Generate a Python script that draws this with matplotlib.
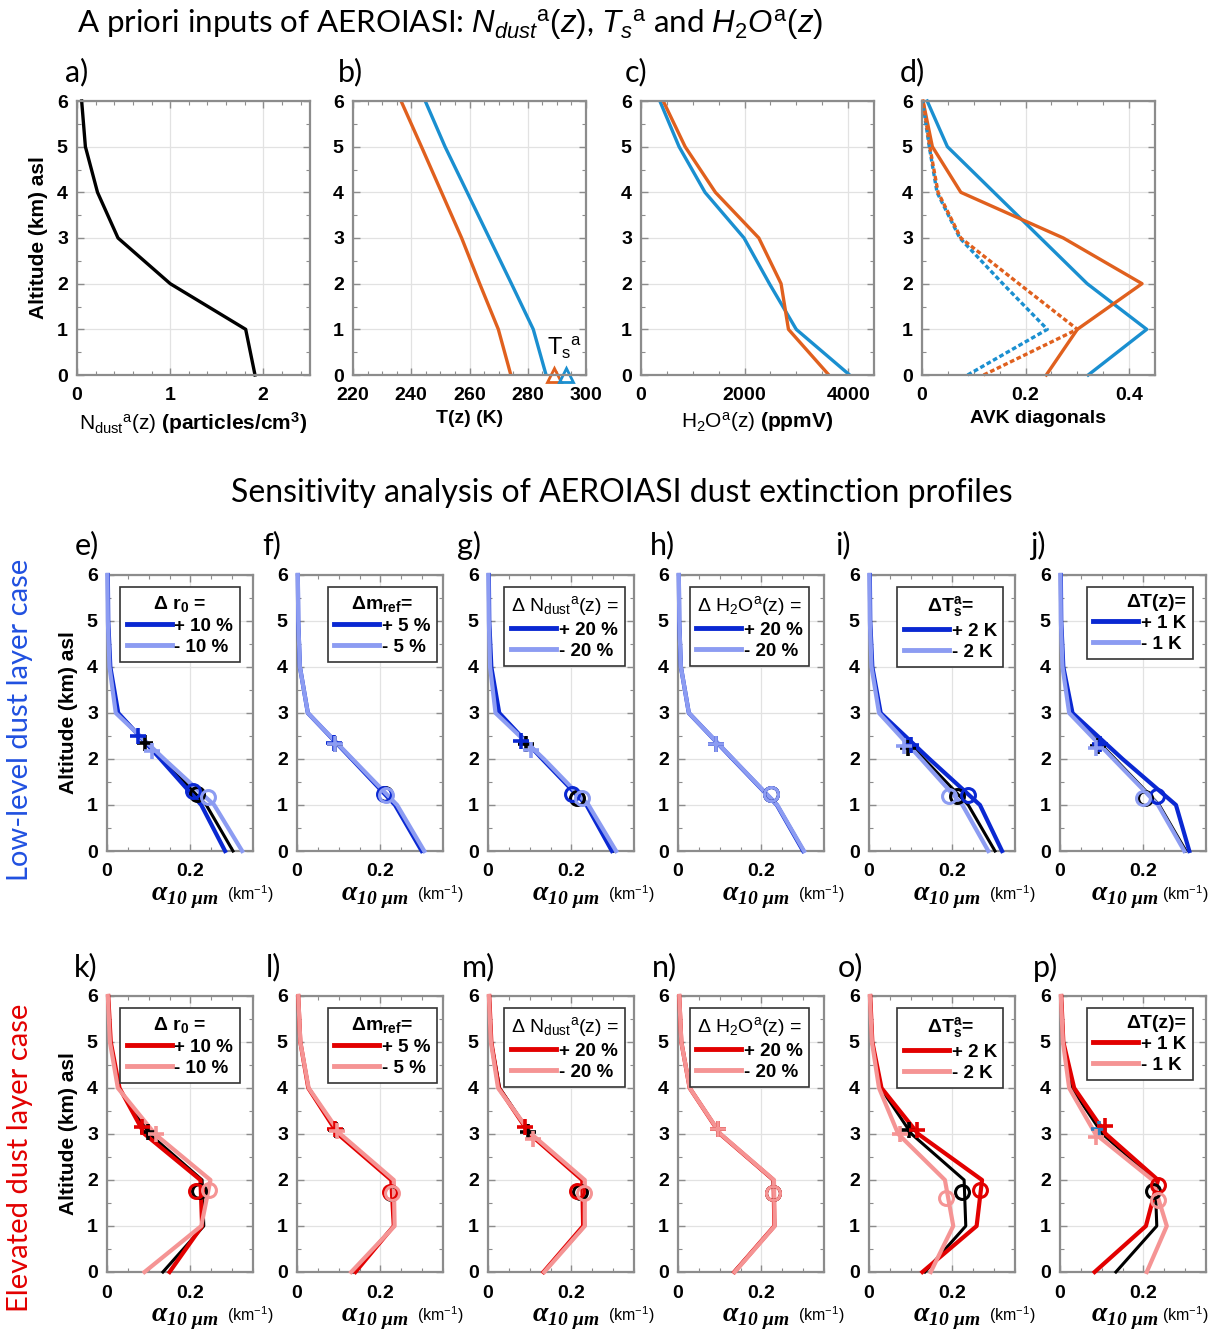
import matplotlib

matplotlib.use("Agg")

import matplotlib.pyplot as plt
from matplotlib.lines import Line2D
from matplotlib.ticker import FuncFormatter, MultipleLocator

plt.rcParams["font.family"] = ["Liberation Sans", "DejaVu Sans"]
plt.rcParams["mathtext.fontset"] = "custom"
plt.rcParams["mathtext.rm"] = "Liberation Sans:normal"
plt.rcParams["mathtext.it"] = "Liberation Sans:italic:normal"
plt.rcParams["mathtext.bf"] = "Liberation Sans:bold"
plt.rcParams["mathtext.bfit"] = "Liberation Serif:italic:bold"

# altitude grid (km)
Z_KM = [0, 1, 2, 3, 4, 5, 6]

# a priori inputs (top row)
n_dust_apriori = [1.91, 1.81, 1.0, 0.44, 0.22, 0.09, 0.05]
t_low = [286.3, 281.9, 274.4, 266.8, 259.2, 251.6, 244.8]
t_elev = [274.2, 269.9, 263.5, 257.3, 250.4, 243.5, 236.5]
ts_low = 293.3
ts_elev = 288.9
h2o_low = [4030, 2998, 2480, 1990, 1236, 735, 364]
h2o_elev = [3629, 2848, 2705, 2276, 1437, 852, 429]
avk_low = [0.321, 0.434, 0.319, 0.229, 0.139, 0.049, 0.010]
avk_elev = [0.240, 0.300, 0.425, 0.273, 0.075, 0.020, 0.002]
avk_low_dot = [0.088, 0.242, 0.156, 0.073, 0.029, 0.014, 0.001]
avk_elev_dot = [0.119, 0.300, 0.187, 0.075, 0.031, 0.015, 0.002]

# reference extinction profiles (km-1)
ref_low = [0.302, 0.238, 0.132, 0.026, 0.007, 0.003, 0.002]
ref_elev = [0.134, 0.232, 0.228, 0.102, 0.028, 0.008, 0.003]

# sensitivity runs: profiles for +/- perturbation, markers as (x, z) for ref, plus, minus
sens_e = dict(plus=[0.283, 0.226, 0.128, 0.027, 0.008, 0.003, 0.002],
              minus=[0.324, 0.257, 0.137, 0.021, 0.006, 0.002, 0.001],
              cross=[(0.091, 2.35), (0.075, 2.50), (0.108, 2.18)],
              circle=[(0.215, 1.25), (0.205, 1.30), (0.243, 1.18)])
sens_f = dict(plus=[0.299, 0.235, 0.131, 0.026, 0.007, 0.003, 0.002],
              minus=[0.305, 0.240, 0.133, 0.026, 0.007, 0.003, 0.002],
              cross=[(0.090, 2.33), (0.088, 2.34), (0.092, 2.32)],
              circle=[(0.211, 1.23), (0.208, 1.24), (0.214, 1.22)])
sens_g = dict(plus=[0.297, 0.236, 0.130, 0.027, 0.008, 0.003, 0.002],
              minus=[0.307, 0.241, 0.134, 0.018, 0.005, 0.002, 0.001],
              cross=[(0.090, 2.33), (0.079, 2.40), (0.103, 2.20)],
              circle=[(0.214, 1.16), (0.202, 1.24), (0.226, 1.15)])
sens_h = dict(plus=[0.300, 0.237, 0.131, 0.026, 0.007, 0.003, 0.002],
              minus=[0.302, 0.238, 0.132, 0.026, 0.007, 0.003, 0.002],
              cross=[(0.091, 2.32), (0.090, 2.32), (0.091, 2.32)],
              circle=[(0.222, 1.24), (0.222, 1.24), (0.222, 1.24)])
sens_i = dict(plus=[0.319, 0.266, 0.145, 0.028, 0.008, 0.003, 0.002],
              minus=[0.286, 0.224, 0.125, 0.024, 0.006, 0.002, 0.001],
              cross=[(0.093, 2.25), (0.101, 2.30), (0.085, 2.28)],
              circle=[(0.210, 1.20), (0.237, 1.22), (0.192, 1.20)])
sens_j = dict(plus=[0.310, 0.278, 0.150, 0.030, 0.008, 0.003, 0.002],
              minus=[0.298, 0.235, 0.128, 0.022, 0.006, 0.002, 0.001],
              cross=[(0.090, 2.28), (0.096, 2.33), (0.086, 2.25)],
              circle=[(0.204, 1.16), (0.232, 1.20), (0.200, 1.16)])

sens_k = dict(plus=[0.150, 0.228, 0.224, 0.090, 0.030, 0.009, 0.003],
              minus=[0.090, 0.226, 0.248, 0.115, 0.026, 0.007, 0.002],
              cross=[(0.098, 3.05), (0.084, 3.16), (0.118, 3.00)],
              circle=[(0.220, 1.76), (0.214, 1.76), (0.244, 1.78)])
sens_l = dict(plus=[0.140, 0.232, 0.226, 0.098, 0.027, 0.008, 0.003],
              minus=[0.130, 0.234, 0.232, 0.104, 0.028, 0.008, 0.003],
              cross=[(0.093, 3.08), (0.090, 3.10), (0.096, 3.06)],
              circle=[(0.226, 1.72), (0.224, 1.73), (0.228, 1.71)])
sens_m = dict(plus=[0.133, 0.228, 0.226, 0.100, 0.026, 0.008, 0.003],
              minus=[0.135, 0.232, 0.232, 0.104, 0.024, 0.007, 0.002],
              cross=[(0.097, 3.05), (0.089, 3.15), (0.109, 2.90)],
              circle=[(0.221, 1.74), (0.214, 1.76), (0.229, 1.72)])
sens_n = dict(plus=[0.135, 0.231, 0.229, 0.101, 0.028, 0.008, 0.003],
              minus=[0.136, 0.232, 0.230, 0.102, 0.028, 0.008, 0.003],
              cross=[(0.095, 3.10), (0.095, 3.10), (0.095, 3.10)],
              circle=[(0.228, 1.72), (0.228, 1.72), (0.228, 1.72)])
sens_o = dict(plus=[0.128, 0.258, 0.271, 0.118, 0.030, 0.008, 0.003],
              minus=[0.148, 0.202, 0.182, 0.070, 0.024, 0.007, 0.002],
              cross=[(0.096, 3.08), (0.114, 3.08), (0.075, 2.99)],
              circle=[(0.224, 1.74), (0.267, 1.78), (0.184, 1.61)])
sens_p = dict(plus=[0.083, 0.206, 0.235, 0.110, 0.034, 0.008, 0.003],
              minus=[0.208, 0.256, 0.222, 0.085, 0.022, 0.007, 0.002],
              cross=[(0.094, 3.10), (0.107, 3.18), (0.086, 2.94)],
              circle=[(0.222, 1.76), (0.236, 1.89), (0.234, 1.57)])

legend_titles = [
    ("Δ r$_{\\mathbf{0}}$ =", "bold", ["+ 10 %", "- 10 %"]),
    ("Δm$_{\\mathbf{ref}}$=", "bold", ["+ 5 %", "- 5 %"]),
    ("Δ N$_{\\rm dust}$$^{\\rm a}$(z) =", "normal", ["+ 20 %", "- 20 %"]),
    ("Δ H$_{\\rm 2}$O$^{\\rm a}$(z) =", "normal", ["+ 20 %", "- 20 %"]),
    ("ΔT$_{\\mathbf{s}}^{\\mathbf{a}}$=", "bold", ["+ 2 K", "- 2 K"]),
    ("ΔT(z)=", "bold", ["+ 1 K", "- 1 K"]),
]
legend_right = [0.91, 0.96, 0.94, 0.90, 0.92, 0.91]

C_BLUE = "#1a8fd0"
C_ORANGE = "#e0601e"
C_DARKBLUE = "#0a28d2"
C_LIGHTBLUE = "#8c9cf2"
C_RED = "#e20000"
C_LIGHTRED = "#f59494"
C_SPINE = "#8c8c8c"

W, H = 1225, 1331
fig = plt.figure(figsize=(W / 100, H / 100), dpi=100)

bold_fmt = FuncFormatter(lambda v, p: rf"$\mathbf{{{v:g}}}$")


def add_axes(left, top, width, height):
    return fig.add_axes([left / W, 1 - (top + height) / H, width / W, height / H])


def style_axes(ax, xlim, xmajor, xminor):
    ax.set_xlim(*xlim)
    ax.set_ylim(0, 6)
    ax.yaxis.set_major_locator(MultipleLocator(1))
    ax.yaxis.set_minor_locator(MultipleLocator(0.5))
    ax.xaxis.set_major_locator(MultipleLocator(xmajor))
    ax.xaxis.set_minor_locator(MultipleLocator(xminor))
    ax.xaxis.set_major_formatter(bold_fmt)
    ax.yaxis.set_major_formatter(bold_fmt)
    ax.grid(True, which="major", color="#e2e2e2", lw=0.9)
    ax.set_axisbelow(True)
    ax.tick_params(which="both", direction="in", top=True, right=True,
                   color=C_SPINE, labelsize=14)
    ax.tick_params(axis="x", pad=9)
    ax.tick_params(axis="y", pad=6)
    ax.tick_params(which="major", length=5, width=1)
    ax.tick_params(which="minor", length=3, width=0.8)
    for spine in ax.spines.values():
        spine.set_color(C_SPINE)
        spine.set_linewidth(1.6)


def letter(x, y, s):
    fig.text(x / W, 1 - y / H, s, fontsize=22, family="Lato",
             ha="left", va="center")


# titles
fig.text(450 / W, 1 - 24 / H,
         r"A priori inputs of AEROIASI: $N_{dust}{}^{\rm a}(z)$, $T_{s}{}^{\rm a}$ and $H_{2}O^{\rm a}(z)$",
         fontsize=22.5, family="Lato", ha="center", va="center")
fig.text(622 / W, 1 - 493 / H, "Sensitivity analysis of AEROIASI dust extinction profiles",
         fontsize=23, family="Lato", ha="center", va="center")
fig.text(20 / W, 1 - 720 / H, "Low-level dust layer case", rotation=90, color="#2050e0",
         fontsize=21, family="Lato", ha="center", va="center")
fig.text(20 / W, 1 - 1158 / H, "Elevated dust layer case", rotation=90, color=C_RED,
         fontsize=21, family="Lato", ha="center", va="center")

# ---- top row: a priori inputs ----
top_lefts = [77, 353, 641, 922]
axes_top = [add_axes(x, 101, 233, 274) for x in top_lefts]
for x, s in zip([65, 338, 625, 900], ["a)", "b)", "c)", "d)"]):
    letter(x, 72, s)

ax = axes_top[0]
style_axes(ax, (0, 2.5), 1, 0.2)
ax.plot(n_dust_apriori, Z_KM, color="black", lw=2.4, clip_on=False)
ax.set_ylabel("Altitude (km) asl", fontsize=15, fontweight="bold", labelpad=6)
ax.set_xlabel(r"N$_{\rm dust}$$^{\rm a}$(z) $\mathbf{(particles/cm^3)}$",
              fontsize=15, labelpad=4)

ax = axes_top[1]
style_axes(ax, (220, 300), 20, 5)
ax.plot(t_low, Z_KM, color=C_BLUE, lw=2.4)
ax.plot(t_elev, Z_KM, color=C_ORANGE, lw=2.4)
ax.plot([ts_elev], [0], "^", mfc="none", mec=C_ORANGE, ms=10, mew=2, clip_on=False)
ax.plot([ts_low], [0], "^", mfc="none", mec=C_BLUE, ms=10, mew=2, clip_on=False)
ax.text(286.5, 0.3, r"T$_{\rm s}$$^{\rm a}$", fontsize=17, ha="left", va="bottom")
ax.set_xlabel("T(z) (K)", fontsize=14, fontweight="bold", labelpad=4)

ax = axes_top[2]
style_axes(ax, (0, 4500), 2000, 500)
ax.plot(h2o_low, Z_KM, color=C_BLUE, lw=2.4)
ax.plot(h2o_elev, Z_KM, color=C_ORANGE, lw=2.4)
ax.set_xlabel(r"H$_2$O$^{\rm a}$(z) $\mathbf{(ppmV)}$", fontsize=15, labelpad=4)

ax = axes_top[3]
style_axes(ax, (0, 0.45), 0.2, 0.05)
ax.plot(avk_low, Z_KM, color=C_BLUE, lw=2.4, clip_on=False)
ax.plot(avk_elev, Z_KM, color=C_ORANGE, lw=2.4, clip_on=False)
ax.plot(avk_low_dot, Z_KM, color=C_BLUE, lw=2.4, ls=(0, (1.4, 0.8)), clip_on=False)
ax.plot(avk_elev_dot, Z_KM, color=C_ORANGE, lw=2.4, ls=(0, (1.4, 0.8)), clip_on=False)
ax.set_xlabel("AVK diagonals", fontsize=14, fontweight="bold", labelpad=4)

# ---- sensitivity rows ----
sens_lefts = [107, 297, 488, 678, 869, 1060]
rows = [
    (575, ref_low, [sens_e, sens_f, sens_g, sens_h, sens_i, sens_j],
     C_DARKBLUE, C_LIGHTBLUE, "efghij", 545),
    (996, ref_elev, [sens_k, sens_l, sens_m, sens_n, sens_o, sens_p],
     C_RED, C_LIGHTRED, "klmnop", 967),
]
letter_x = [[75, 262, 457, 650, 835, 1030], [74, 266, 462, 652, 838, 1033]]

for r, (top, ref, panels, dark, light, letters, ly) in enumerate(rows):
    for k, (left, panel) in enumerate(zip(sens_lefts, panels)):
        ax = add_axes(left, top, 146, 276)
        style_axes(ax, (0, 0.35), 0.2, 0.05)
        letter(letter_x[r][k], ly, letters[k] + ")")

        ax.plot(ref, Z_KM, color="black", lw=2.2, clip_on=False, zorder=3)
        ax.plot(panel["plus"], Z_KM, color=dark, lw=3, clip_on=False, zorder=3)
        ax.plot(panel["minus"], Z_KM, color=light, lw=3, clip_on=False, zorder=3)

        cross_colors = ["black", dark, light]
        if letters[k] == "p":
            cross_colors[0] = "#2a7fc0"
        for (cx, cz), col in zip(panel["cross"], cross_colors):
            ax.plot(cx, cz, "+", color=col, ms=11, mew=2.6, zorder=4)
        for (cx, cz), col in zip(panel["circle"], ["black", dark, light]):
            ax.plot(cx, cz, "o", mfc="none", mec=col, ms=10, mew=2.2, zorder=4)

        title, tweight, labels = legend_titles[k]
        handles = [Line2D([], [], color=dark, lw=3.5), Line2D([], [], color=light, lw=3.5)]
        leg = ax.legend(handles, labels, title=title, loc="upper right",
                        bbox_to_anchor=(legend_right[k], 0.955), fancybox=False,
                        edgecolor="#333333", framealpha=1,
                        prop={"size": 13.5, "weight": "bold"},
                        title_fontsize=14, handlelength=2.4, handletextpad=0.15,
                        borderpad=0.35, labelspacing=0.2, borderaxespad=0)
        leg.get_title().set_fontweight(tweight)
        leg.get_frame().set_linewidth(1.2)
        if k == 5:
            leg._legend_box.align = "right"

        if k == 0:
            ax.set_ylabel("Altitude (km) asl", fontsize=15, fontweight="bold", labelpad=6)

        if k < 5:
            ax_alpha, ax_unit = 0.53, 0.98
        else:
            ax_alpha, ax_unit = 0.44, 0.86
        ax.text(ax_alpha, -0.17, r"$\mathbfit{\alpha}_{\mathbfit{10\ μm}}$", transform=ax.transAxes,
                fontsize=20, ha="center", va="center")
        ax.text(ax_unit, -0.155, "(km$^{-1}$)", transform=ax.transAxes,
                fontsize=11.5, ha="center", va="center")

fig.savefig("out.png", dpi=100)
